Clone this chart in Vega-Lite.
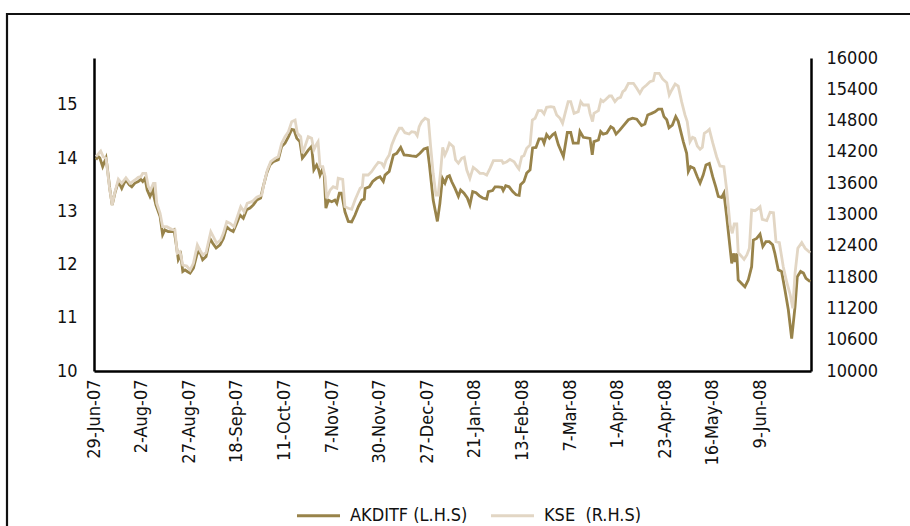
{
  "$schema": "https://vega.github.io/schema/vega-lite/v6.json",
  "width": 910,
  "height": 526,
  "autosize": {"type": "none"},
  "padding": {"left": 7, "top": 14, "right": 0, "bottom": 0},
  "background": "#ffffff",
  "config": {
    "view": {"stroke": "#111111", "strokeWidth": 2.2},
    "axis": {
      "grid": false,
      "ticks": false,
      "domainColor": "#000000",
      "domainWidth": 2.5,
      "labelFont": "DejaVu Sans Condensed, Liberation Sans, sans-serif",
      "labelFontSize": 18,
      "labelColor": "#111111",
      "title": null
    },
    "legend": {
      "labelFont": "DejaVu Sans Condensed, Liberation Sans, sans-serif",
      "labelFontSize": 18,
      "labelColor": "#111111"
    }
  },
  "datasets": {
    "akd": [
      {"t": 0.7, "v": 13.97}, {"t": 1.5, "v": 14.03}, {"t": 2.1, "v": 14.0}, {"t": 3.1, "v": 13.84},
      {"t": 4.3, "v": 14.0}, {"t": 4.7, "v": 13.84}, {"t": 5.7, "v": 13.4}, {"t": 6.5, "v": 13.12},
      {"t": 7.5, "v": 13.35}, {"t": 8.7, "v": 13.56}, {"t": 9.9, "v": 13.43}, {"t": 10.5, "v": 13.5},
      {"t": 11.4, "v": 13.59}, {"t": 12.6, "v": 13.5}, {"t": 13.5, "v": 13.46}, {"t": 14.6, "v": 13.53},
      {"t": 15.8, "v": 13.56}, {"t": 16.7, "v": 13.6}, {"t": 17.4, "v": 13.56}, {"t": 18.2, "v": 13.62},
      {"t": 19.0, "v": 13.4}, {"t": 20.0, "v": 13.28}, {"t": 21.0, "v": 13.4}, {"t": 21.4, "v": 13.28},
      {"t": 22.1, "v": 13.12}, {"t": 23.6, "v": 12.9}, {"t": 24.5, "v": 12.56}, {"t": 25.3, "v": 12.65},
      {"t": 26.5, "v": 12.62}, {"t": 27.7, "v": 12.62}, {"t": 28.6, "v": 12.65}, {"t": 29.3, "v": 12.4},
      {"t": 30.1, "v": 12.09}, {"t": 31.0, "v": 12.18}, {"t": 31.7, "v": 11.87}, {"t": 32.5, "v": 11.9},
      {"t": 33.3, "v": 11.87}, {"t": 34.3, "v": 11.84}, {"t": 35.5, "v": 11.93}, {"t": 36.7, "v": 12.18},
      {"t": 37.6, "v": 12.27}, {"t": 38.8, "v": 12.09}, {"t": 40.0, "v": 12.15}, {"t": 41.4, "v": 12.49},
      {"t": 42.4, "v": 12.4}, {"t": 43.6, "v": 12.31}, {"t": 45.0, "v": 12.37}, {"t": 46.2, "v": 12.49},
      {"t": 47.4, "v": 12.71}, {"t": 48.6, "v": 12.65}, {"t": 49.7, "v": 12.62}, {"t": 51.0, "v": 12.78},
      {"t": 52.1, "v": 12.93}, {"t": 53.3, "v": 12.87}, {"t": 54.5, "v": 13.03}, {"t": 55.7, "v": 13.06},
      {"t": 56.9, "v": 13.12}, {"t": 58.1, "v": 13.21}, {"t": 59.5, "v": 13.25}, {"t": 60.4, "v": 13.46},
      {"t": 61.7, "v": 13.72}, {"t": 62.8, "v": 13.87}, {"t": 64.0, "v": 13.93}, {"t": 65.8, "v": 13.97},
      {"t": 67.0, "v": 14.22}, {"t": 68.2, "v": 14.28}, {"t": 69.4, "v": 14.4}, {"t": 70.6, "v": 14.54},
      {"t": 71.4, "v": 14.53}, {"t": 72.4, "v": 14.37}, {"t": 73.5, "v": 14.31}, {"t": 74.4, "v": 14.0},
      {"t": 75.3, "v": 14.06}, {"t": 76.5, "v": 14.15}, {"t": 77.7, "v": 14.22}, {"t": 78.5, "v": 13.78},
      {"t": 79.5, "v": 13.87}, {"t": 80.1, "v": 13.8}, {"t": 80.7, "v": 13.68}, {"t": 81.5, "v": 13.78},
      {"t": 82.2, "v": 13.68}, {"t": 82.8, "v": 13.06}, {"t": 83.7, "v": 13.21}, {"t": 84.9, "v": 13.18},
      {"t": 86.0, "v": 13.21}, {"t": 86.7, "v": 13.15}, {"t": 87.6, "v": 13.34}, {"t": 88.4, "v": 13.34},
      {"t": 89.6, "v": 12.99}, {"t": 90.8, "v": 12.81}, {"t": 92.0, "v": 12.8}, {"t": 93.2, "v": 12.93},
      {"t": 94.4, "v": 13.09}, {"t": 95.6, "v": 13.21}, {"t": 96.5, "v": 13.23}, {"t": 96.8, "v": 13.43},
      {"t": 98.3, "v": 13.46}, {"t": 99.5, "v": 13.56}, {"t": 100.9, "v": 13.62}, {"t": 102.1, "v": 13.65},
      {"t": 103.3, "v": 13.56}, {"t": 103.9, "v": 13.68}, {"t": 105.4, "v": 13.75}, {"t": 106.9, "v": 14.06},
      {"t": 108.1, "v": 14.09}, {"t": 109.5, "v": 14.2}, {"t": 110.7, "v": 14.06}, {"t": 112.2, "v": 14.05},
      {"t": 113.4, "v": 14.04}, {"t": 115.0, "v": 14.03}, {"t": 116.4, "v": 14.09}, {"t": 117.8, "v": 14.17},
      {"t": 119.0, "v": 14.19}, {"t": 119.7, "v": 13.9}, {"t": 121.1, "v": 13.21}, {"t": 122.6, "v": 12.81},
      {"t": 123.5, "v": 13.15}, {"t": 124.4, "v": 13.62}, {"t": 125.3, "v": 13.53}, {"t": 126.1, "v": 13.65},
      {"t": 126.9, "v": 13.67}, {"t": 127.7, "v": 13.56}, {"t": 128.9, "v": 13.43}, {"t": 130.1, "v": 13.28},
      {"t": 130.9, "v": 13.4}, {"t": 132.1, "v": 13.34}, {"t": 133.3, "v": 13.25}, {"t": 134.2, "v": 13.12},
      {"t": 135.2, "v": 13.37}, {"t": 136.4, "v": 13.35}, {"t": 137.6, "v": 13.29}, {"t": 138.8, "v": 13.25},
      {"t": 140.2, "v": 13.23}, {"t": 140.8, "v": 13.37}, {"t": 142.3, "v": 13.39}, {"t": 143.2, "v": 13.46},
      {"t": 144.3, "v": 13.46}, {"t": 145.6, "v": 13.45}, {"t": 146.1, "v": 13.39}, {"t": 147.0, "v": 13.48},
      {"t": 148.2, "v": 13.46}, {"t": 149.5, "v": 13.37}, {"t": 150.7, "v": 13.31}, {"t": 151.8, "v": 13.3},
      {"t": 152.3, "v": 13.5}, {"t": 153.5, "v": 13.56}, {"t": 154.5, "v": 13.72}, {"t": 155.7, "v": 13.78},
      {"t": 156.6, "v": 14.19}, {"t": 157.8, "v": 14.2}, {"t": 158.9, "v": 14.36}, {"t": 160.1, "v": 14.36},
      {"t": 160.7, "v": 14.28}, {"t": 161.6, "v": 14.44}, {"t": 162.6, "v": 14.37}, {"t": 163.8, "v": 14.44},
      {"t": 164.6, "v": 14.47}, {"t": 165.8, "v": 14.25}, {"t": 167.6, "v": 14.03}, {"t": 169.0, "v": 14.48},
      {"t": 170.2, "v": 14.48}, {"t": 171.1, "v": 14.28}, {"t": 172.9, "v": 14.28}, {"t": 173.5, "v": 14.5},
      {"t": 174.7, "v": 14.39}, {"t": 177.1, "v": 14.37}, {"t": 177.9, "v": 14.06}, {"t": 178.5, "v": 14.31},
      {"t": 180.1, "v": 14.34}, {"t": 180.9, "v": 14.5}, {"t": 181.8, "v": 14.45}, {"t": 183.1, "v": 14.47},
      {"t": 184.5, "v": 14.59}, {"t": 185.4, "v": 14.56}, {"t": 186.4, "v": 14.45}, {"t": 187.8, "v": 14.53},
      {"t": 189.2, "v": 14.62}, {"t": 190.8, "v": 14.72}, {"t": 192.3, "v": 14.75}, {"t": 193.8, "v": 14.73},
      {"t": 195.5, "v": 14.61}, {"t": 196.7, "v": 14.64}, {"t": 197.7, "v": 14.81}, {"t": 199.1, "v": 14.84},
      {"t": 200.3, "v": 14.87}, {"t": 201.5, "v": 14.92}, {"t": 202.7, "v": 14.92}, {"t": 203.5, "v": 14.78},
      {"t": 204.5, "v": 14.72}, {"t": 205.3, "v": 14.57}, {"t": 206.5, "v": 14.62}, {"t": 207.7, "v": 14.78},
      {"t": 208.6, "v": 14.69}, {"t": 210.4, "v": 14.31}, {"t": 211.6, "v": 14.09}, {"t": 212.2, "v": 13.75},
      {"t": 213.0, "v": 13.84}, {"t": 214.2, "v": 13.81}, {"t": 215.4, "v": 13.65}, {"t": 216.4, "v": 13.53},
      {"t": 217.5, "v": 13.68}, {"t": 218.5, "v": 13.87}, {"t": 219.7, "v": 13.9}, {"t": 220.9, "v": 13.65},
      {"t": 222.0, "v": 13.46}, {"t": 222.9, "v": 13.28}, {"t": 224.1, "v": 13.26}, {"t": 224.9, "v": 13.34},
      {"t": 225.9, "v": 12.9}, {"t": 226.8, "v": 12.46}, {"t": 227.7, "v": 12.02}, {"t": 228.3, "v": 12.21},
      {"t": 228.9, "v": 12.05}, {"t": 229.5, "v": 12.21}, {"t": 230.0, "v": 11.71}, {"t": 231.3, "v": 11.64},
      {"t": 232.4, "v": 11.58}, {"t": 233.6, "v": 11.71}, {"t": 234.8, "v": 11.96}, {"t": 235.4, "v": 12.46},
      {"t": 236.6, "v": 12.49}, {"t": 237.8, "v": 12.57}, {"t": 238.8, "v": 12.34}, {"t": 239.9, "v": 12.43},
      {"t": 241.1, "v": 12.43}, {"t": 242.3, "v": 12.37}, {"t": 243.1, "v": 12.21}, {"t": 244.3, "v": 11.9},
      {"t": 245.5, "v": 11.87}, {"t": 246.7, "v": 11.52}, {"t": 247.9, "v": 11.15}, {"t": 249.1, "v": 10.61},
      {"t": 250.3, "v": 11.21}, {"t": 251.1, "v": 11.77}, {"t": 252.3, "v": 11.87}, {"t": 253.3, "v": 11.84},
      {"t": 254.2, "v": 11.74}, {"t": 255.7, "v": 11.68}
    ],
    "kse": [
      {"t": 0.7, "v": 14108}, {"t": 2.4, "v": 14217}, {"t": 3.3, "v": 14108}, {"t": 4.3, "v": 14077},
      {"t": 5.5, "v": 13533}, {"t": 6.5, "v": 13182}, {"t": 7.5, "v": 13437}, {"t": 8.7, "v": 13675},
      {"t": 9.9, "v": 13598}, {"t": 11.4, "v": 13705}, {"t": 12.9, "v": 13598}, {"t": 14.6, "v": 13661},
      {"t": 15.8, "v": 13713}, {"t": 16.7, "v": 13725}, {"t": 17.4, "v": 13790}, {"t": 18.5, "v": 13790},
      {"t": 19.4, "v": 13533}, {"t": 20.2, "v": 13470}, {"t": 21.2, "v": 13598}, {"t": 21.8, "v": 13598},
      {"t": 22.4, "v": 13215}, {"t": 23.6, "v": 13023}, {"t": 24.5, "v": 12766}, {"t": 26.0, "v": 12766},
      {"t": 27.7, "v": 12716}, {"t": 28.9, "v": 12703}, {"t": 29.7, "v": 12256}, {"t": 30.7, "v": 12287},
      {"t": 31.7, "v": 12032}, {"t": 33.1, "v": 12013}, {"t": 34.3, "v": 11936}, {"t": 35.5, "v": 12064},
      {"t": 36.9, "v": 12415}, {"t": 37.8, "v": 12320}, {"t": 38.8, "v": 12224}, {"t": 40.0, "v": 12268},
      {"t": 41.7, "v": 12670}, {"t": 42.6, "v": 12575}, {"t": 43.8, "v": 12447}, {"t": 45.2, "v": 12511},
      {"t": 46.2, "v": 12639}, {"t": 47.4, "v": 12862}, {"t": 48.6, "v": 12831}, {"t": 50.0, "v": 12766},
      {"t": 51.0, "v": 12927}, {"t": 52.4, "v": 13150}, {"t": 53.6, "v": 13054}, {"t": 54.7, "v": 13215},
      {"t": 56.3, "v": 13246}, {"t": 57.1, "v": 13278}, {"t": 58.1, "v": 13330}, {"t": 59.9, "v": 13374},
      {"t": 60.7, "v": 13598}, {"t": 61.9, "v": 13853}, {"t": 63.1, "v": 14012}, {"t": 64.6, "v": 14077},
      {"t": 65.8, "v": 14108}, {"t": 67.0, "v": 14365}, {"t": 68.2, "v": 14492}, {"t": 69.4, "v": 14588},
      {"t": 70.6, "v": 14780}, {"t": 71.8, "v": 14812}, {"t": 72.6, "v": 14557}, {"t": 73.8, "v": 14492},
      {"t": 74.5, "v": 14173}, {"t": 75.3, "v": 14300}, {"t": 76.5, "v": 14492}, {"t": 77.7, "v": 14461},
      {"t": 78.5, "v": 14237}, {"t": 79.3, "v": 14333}, {"t": 80.0, "v": 14396}, {"t": 80.7, "v": 13916},
      {"t": 81.7, "v": 13916}, {"t": 82.5, "v": 13725}, {"t": 83.1, "v": 13311}, {"t": 84.3, "v": 13470},
      {"t": 85.4, "v": 13533}, {"t": 86.7, "v": 13502}, {"t": 87.2, "v": 13694}, {"t": 88.8, "v": 13675},
      {"t": 89.6, "v": 13150}, {"t": 90.8, "v": 13119}, {"t": 92.0, "v": 13100}, {"t": 93.2, "v": 13278},
      {"t": 95.0, "v": 13502}, {"t": 95.8, "v": 13533}, {"t": 96.2, "v": 13757}, {"t": 97.9, "v": 13757},
      {"t": 99.1, "v": 13821}, {"t": 100.3, "v": 13916}, {"t": 101.5, "v": 14001}, {"t": 102.7, "v": 13982},
      {"t": 103.5, "v": 13916}, {"t": 104.3, "v": 14045}, {"t": 105.4, "v": 14141}, {"t": 106.3, "v": 14333},
      {"t": 107.5, "v": 14492}, {"t": 109.0, "v": 14653}, {"t": 109.9, "v": 14653}, {"t": 111.0, "v": 14568},
      {"t": 112.5, "v": 14543}, {"t": 113.4, "v": 14588}, {"t": 114.6, "v": 14575}, {"t": 115.4, "v": 14511},
      {"t": 116.1, "v": 14683}, {"t": 117.0, "v": 14780}, {"t": 118.2, "v": 14844}, {"t": 119.4, "v": 14812},
      {"t": 120.2, "v": 14300}, {"t": 121.1, "v": 13790}, {"t": 122.1, "v": 13374}, {"t": 122.9, "v": 13374},
      {"t": 123.8, "v": 13853}, {"t": 124.5, "v": 14288}, {"t": 125.3, "v": 14141}, {"t": 126.1, "v": 14237},
      {"t": 126.9, "v": 14365}, {"t": 128.3, "v": 14300}, {"t": 129.1, "v": 14045}, {"t": 130.1, "v": 13982},
      {"t": 131.3, "v": 14077}, {"t": 132.2, "v": 14097}, {"t": 133.1, "v": 13853}, {"t": 134.2, "v": 13694},
      {"t": 135.4, "v": 13905}, {"t": 136.6, "v": 13853}, {"t": 137.8, "v": 13790}, {"t": 139.0, "v": 13790},
      {"t": 140.2, "v": 13757}, {"t": 141.4, "v": 13885}, {"t": 142.6, "v": 14032}, {"t": 144.4, "v": 14032},
      {"t": 145.6, "v": 14032}, {"t": 146.1, "v": 13982}, {"t": 147.4, "v": 14012}, {"t": 148.5, "v": 14058},
      {"t": 150.0, "v": 14012}, {"t": 151.1, "v": 13916}, {"t": 151.7, "v": 13872}, {"t": 152.7, "v": 14108},
      {"t": 153.5, "v": 14127}, {"t": 154.5, "v": 14269}, {"t": 155.7, "v": 14333}, {"t": 156.5, "v": 14812},
      {"t": 157.5, "v": 14844}, {"t": 158.6, "v": 14990}, {"t": 159.8, "v": 14990}, {"t": 160.7, "v": 14927},
      {"t": 161.6, "v": 15055}, {"t": 163.1, "v": 15067}, {"t": 164.2, "v": 15055}, {"t": 165.2, "v": 14908},
      {"t": 166.4, "v": 14844}, {"t": 167.3, "v": 14748}, {"t": 168.2, "v": 14940}, {"t": 169.3, "v": 15163},
      {"t": 170.2, "v": 15163}, {"t": 171.4, "v": 14940}, {"t": 172.9, "v": 14971}, {"t": 173.8, "v": 15163},
      {"t": 174.7, "v": 15099}, {"t": 176.5, "v": 15099}, {"t": 177.1, "v": 14940}, {"t": 178.0, "v": 14780},
      {"t": 178.5, "v": 14940}, {"t": 180.1, "v": 14990}, {"t": 181.0, "v": 15195}, {"t": 181.8, "v": 15163},
      {"t": 182.8, "v": 15208}, {"t": 184.0, "v": 15272}, {"t": 184.8, "v": 15272}, {"t": 186.0, "v": 15163},
      {"t": 187.0, "v": 15227}, {"t": 188.0, "v": 15247}, {"t": 188.8, "v": 15355}, {"t": 189.6, "v": 15387},
      {"t": 190.8, "v": 15515}, {"t": 192.6, "v": 15515}, {"t": 193.8, "v": 15419}, {"t": 194.9, "v": 15323},
      {"t": 195.9, "v": 15419}, {"t": 197.3, "v": 15483}, {"t": 198.5, "v": 15546}, {"t": 199.7, "v": 15565},
      {"t": 200.3, "v": 15707}, {"t": 201.8, "v": 15707}, {"t": 203.0, "v": 15598}, {"t": 204.5, "v": 15527},
      {"t": 205.4, "v": 15291}, {"t": 206.3, "v": 15387}, {"t": 207.5, "v": 15502}, {"t": 208.6, "v": 15463},
      {"t": 209.8, "v": 15163}, {"t": 211.0, "v": 14908}, {"t": 211.8, "v": 14780}, {"t": 212.8, "v": 14396},
      {"t": 213.7, "v": 14480}, {"t": 214.5, "v": 14461}, {"t": 215.4, "v": 14313}, {"t": 216.4, "v": 14250},
      {"t": 217.2, "v": 14288}, {"t": 217.9, "v": 14557}, {"t": 218.8, "v": 14588}, {"t": 219.7, "v": 14633},
      {"t": 220.9, "v": 14377}, {"t": 222.3, "v": 14108}, {"t": 223.5, "v": 13930}, {"t": 224.9, "v": 13916},
      {"t": 225.9, "v": 13470}, {"t": 227.1, "v": 12799}, {"t": 227.9, "v": 12639}, {"t": 228.6, "v": 12818},
      {"t": 229.5, "v": 12818}, {"t": 230.0, "v": 12268}, {"t": 231.3, "v": 12191}, {"t": 232.1, "v": 12141},
      {"t": 233.1, "v": 12224}, {"t": 234.0, "v": 12352}, {"t": 234.8, "v": 13086}, {"t": 236.0, "v": 13073},
      {"t": 236.8, "v": 13100}, {"t": 237.8, "v": 13150}, {"t": 238.6, "v": 12908}, {"t": 240.2, "v": 12882},
      {"t": 241.4, "v": 13042}, {"t": 242.6, "v": 13035}, {"t": 243.5, "v": 12479}, {"t": 244.7, "v": 12460},
      {"t": 246.1, "v": 11999}, {"t": 247.3, "v": 11712}, {"t": 248.6, "v": 11457}, {"t": 249.5, "v": 11202},
      {"t": 250.3, "v": 11873}, {"t": 251.3, "v": 12352}, {"t": 252.7, "v": 12460}, {"t": 253.9, "v": 12352},
      {"t": 255.7, "v": 12268}
    ]
  },
  "encoding": {
    "x": {
      "field": "t",
      "type": "quantitative",
      "scale": {"domain": [0, 256], "range": [87, 804], "nice": false, "zero": false},
      "axis": {
        "orient": "bottom",
        "offset": -169,
        "values": [0, 17, 34, 51, 68, 85, 102, 119, 136, 153, 170, 187, 204, 221, 238],
        "labelExpr": "['29-Jun-07','2-Aug-07','27-Aug-07','18-Sep-07','11-Oct-07','7-Nov-07','30-Nov-07','27-Dec-07','21-Jan-08','13-Feb-08','7-Mar-08','1-Apr-08','23-Apr-08','16-May-08','9-Jun-08'][round(datum.value/17)]",
        "labelAngle": -90,
        "labelAlign": "right",
        "labelBaseline": "middle",
        "labelPadding": 8,
        "labelOverlap": false,
        "labelFlush": false
      }
    }
  },
  "layer": [
    {
      "data": {"name": "akd"},
      "mark": {"type": "line", "strokeWidth": 2.8, "clip": false},
      "encoding": {
        "y": {
          "field": "v",
          "type": "quantitative",
          "scale": {"domain": [10, 15.88], "range": [357, 44], "nice": false, "zero": false},
          "axis": {
            "orient": "left",
            "offset": -87,
            "values": [10, 11, 12, 13, 14, 15],
            "labelPadding": 17
          }
        },
        "color": {
          "datum": "AKDITF (L.H.S)",
          "type": "nominal",
          "scale": {
            "domain": ["AKDITF (L.H.S)", "KSE \u00a0(R.H.S)"],
            "range": ["#98834A", "#E2D6C4"]
          },
          "legend": {
            "title": null,
            "orient": "none",
            "direction": "horizontal",
            "legendX": 288,
            "legendY": 478,
            "symbolType": "stroke",
            "symbolSize": 1850,
            "symbolStrokeWidth": 3,
            "labelOffset": 8,
            "columnPadding": 16,
            "padding": 0
          }
        }
      }
    },
    {
      "data": {"name": "kse"},
      "mark": {"type": "line", "strokeWidth": 2.8, "clip": false},
      "encoding": {
        "y": {
          "field": "v",
          "type": "quantitative",
          "scale": {"domain": [10000, 16000], "range": [357, 44], "nice": false, "zero": false},
          "axis": {
            "orient": "right",
            "offset": -106,
            "values": [10000, 10600, 11200, 11800, 12400, 13000, 13600, 14200, 14800, 15400, 16000],
            "format": "d",
            "labelPadding": 15
          }
        },
        "color": {"datum": "KSE \u00a0(R.H.S)", "type": "nominal"}
      }
    }
  ],
  "resolve": {"scale": {"y": "independent"}, "axis": {"y": "independent"}}
}
